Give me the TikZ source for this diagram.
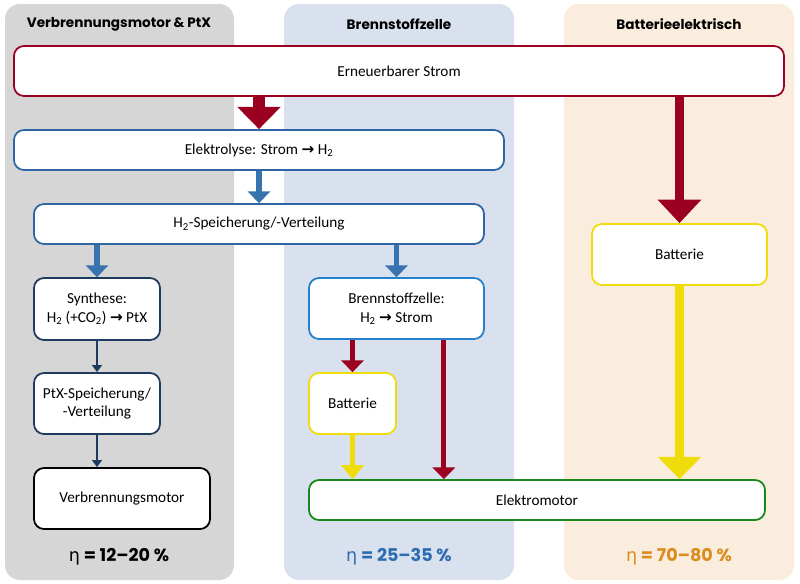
\documentclass[tikz,border=0pt]{standalone}
\usepackage{fontspec}
\setmainfont{Carlito}
\newfontfamily\headfont{Poppins}
\newfontfamily\symfont{DejaVu Sans}
\usepackage{tikz}
\usetikzlibrary{arrows.meta,positioning}

\definecolor{stromred}{RGB}{155,0,32}
\definecolor{h2blue}{RGB}{46,102,165}
\definecolor{arrowblue}{RGB}{55,115,175}
\definecolor{fcblue}{RGB}{35,128,205}
\definecolor{navy}{RGB}{30,58,95}
\definecolor{battyellow}{RGB}{240,220,10}
\definecolor{motorgreen}{RGB}{25,135,25}
\definecolor{bggray}{RGB}{214,214,214}
\definecolor{bgblue}{RGB}{217,224,238}
\definecolor{bgbeige}{RGB}{250,237,221}
\definecolor{etablue}{RGB}{45,108,176}
\definecolor{etaorange}{RGB}{218,140,28}

\tikzstyle{box}=[draw, fill=white, rounded corners=0.3cm, line width=1.5pt, align=center, font=\fontsize{13}{16}\selectfont]
\tikzstyle{titlenode}=[font=\headfont\bfseries\fontsize{11.6}{14}\selectfont]
\tikzstyle{etanode}=[font=\headfont\bfseries\fontsize{15}{18}\selectfont]
\tikzstyle{bigRed}=[-{Triangle[length=19pt,width=36pt]}, line width=10pt, stromred]
\tikzstyle{longRed}=[-{Triangle[length=20pt,width=36pt]}, line width=7pt, stromred]
\tikzstyle{longYellow}=[-{Triangle[length=19pt,width=36pt]}, line width=7pt, battyellow]
\tikzstyle{blueFlow}=[-{Triangle[length=10pt,width=19pt]}, line width=5pt, arrowblue]
\tikzstyle{redFlow}=[-{Triangle[length=10pt,width=19pt]}, line width=4pt, stromred]
\tikzstyle{yellowFlow}=[-{Triangle[length=12pt,width=19pt]}, line width=3.5pt, battyellow]
\tikzstyle{navyFlow}=[-{Triangle[length=6pt,width=8.5pt]}, line width=1.7pt, navy]

\newcommand{\htwo}{H\textsubscript{2}}
\newcommand{\conv}{{\symfont\bfseries →}}
\newcommand{\etasym}{{\symfont\mdseries η}}

\begin{document}
\begin{tikzpicture}[x=0.03cm, y=-0.03cm]
    \useasboundingbox (0,0) rectangle (800,584);

    % columns
    \fill[bggray, rounded corners=0.45cm] (5,4) rectangle (234,580);
    \fill[bgblue, rounded corners=0.45cm] (284,4) rectangle (514,580);
    \fill[bgbeige, rounded corners=0.45cm] (564,4) rectangle (794,580);

    \node[titlenode] (tptx) at (119,24) {Verbrennungsmotor \& PtX};
    \node[titlenode] (tfc) at (399,24) {Brennstoffzelle};
    \node[titlenode] (tbev) at (679,24) {Batterieelektrisch};

    % nodes
    \node[box, draw=stromred, minimum width=23.1cm, minimum height=1.5cm] (strom) at (399,71) {Erneuerbarer Strom};
    \node[box, draw=h2blue, minimum width=14.7cm, minimum height=1.2cm] (elektro) at (259,150) {Elektrolyse: Strom \conv\ \htwo};
    \node[box, draw=h2blue, minimum width=13.5cm, minimum height=1.2cm] (speicher) at (259,224) {\htwo-Speicherung/-Verteilung};
    \node[box, draw=navy, minimum width=3.78cm, minimum height=1.86cm] (synthese) at (97,309) {Synthese:\\\htwo\ (+CO\textsubscript{2}) \conv\ PtX};
    \node[box, draw=navy, minimum width=3.78cm, minimum height=1.83cm] (ptx) at (97,403.5) {PtX-Speicherung/\\-Verteilung};
    \node[box, draw=black, minimum width=5.28cm, minimum height=1.83cm] (vmotor) at (122,498.5) {Verbrennungsmotor};
    \node[box, draw=fcblue, minimum width=5.25cm, minimum height=1.83cm] (bzelle) at (396.5,308.5) {Brennstoffzelle:\\\htwo\ \conv\ Strom};
    \node[box, draw=battyellow, minimum width=2.61cm, minimum height=1.83cm] (batt1) at (352.5,403.5) {Batterie};
    \node[box, draw=motorgreen, minimum width=13.68cm, minimum height=1.2cm] (emotor) at (537,500) {Elektromotor};
    \node[box, draw=battyellow, minimum width=5.25cm, minimum height=1.83cm] (batt2) at (679.5,254.5) {Batterie};

    % Arcs
    \draw[bigRed] (strom.south -| elektro.north) -- (elektro.north);
    \draw[blueFlow] (elektro) -- (speicher);
    \draw[blueFlow] (speicher.south -| synthese.north) -- (synthese.north);
    \draw[blueFlow] (speicher.south -| bzelle.north) -- (bzelle.north);
    \draw[navyFlow] (synthese) -- (ptx);
    \draw[navyFlow] (ptx.south) -- (ptx.south |- vmotor.north);
    \draw[redFlow] (bzelle.south -| batt1.north) -- (batt1.north);
    \draw[redFlow] ([xshift=1.42cm]bzelle.south) -- ([xshift=1.42cm]bzelle.south |- emotor.north);
    \draw[yellowFlow] (batt1.south) -- (batt1.south |- emotor.north);
    \draw[longRed] (strom.south -| batt2.north) -- (batt2.north);
    \draw[longYellow] (batt2.south) -- (batt2.south |- emotor.north);

    % efficiency
    \node[etanode, black] (eptx) at (119,557) {\etasym{} = 12–20 \%};
    \node[etanode, etablue] (efc) at (399,557) {\etasym{} = 25–35 \%};
    \node[etanode, etaorange] (ebev) at (679,557) {\etasym{} = 70–80 \%};

\end{tikzpicture}
\end{document}
